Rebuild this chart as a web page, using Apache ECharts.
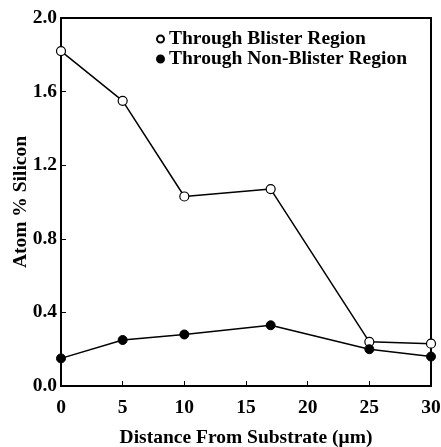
<!DOCTYPE html>
<html><head><meta charset="utf-8">
<script src="https://cdn.jsdelivr.net/npm/echarts@6/dist/echarts.min.js"></script>
<style>html,body{margin:0;padding:0;background:#fff}#c{width:441px;height:447px}</style>
</head><body><div id="c"></div>
<script>
const distances = [0, 5, 10, 17, 25, 30];
const blister = [1.82, 1.55, 1.03, 1.07, 0.24, 0.23];
const nonBlister = [0.15, 0.25, 0.28, 0.33, 0.20, 0.16];
const xTicks = [0, 5, 10, 15, 20, 25, 30];
const yTicks = [0.0, 0.4, 0.8, 1.2, 1.6, 2.0];

const font = '"Liberation Serif", "DejaVu Serif", serif';
const chart = echarts.init(document.getElementById('c'));
const axisLine = {show: true, onZero: false, lineStyle: {color: '#000', width: 2}};
chart.setOption({
  animation: false,
  grid: {left: 61, right: 10, top: 18, bottom: 61, containLabel: false, outerBoundsMode: 'none'},
  legend: {
    orient: 'vertical', left: 151, top: 24, itemGap: 0,
    itemWidth: 7, itemHeight: 7,
    textStyle: {fontFamily: font, fontWeight: 'bold', fontSize: 19.5, color: '#000', padding: [0,0,0,0]},
    data: [{name: 'Through Blister Region', icon: 'circle'}, {name: 'Through Non-Blister Region', icon: 'circle'}]
  },
  xAxis: [{
    type: 'value', min: 0, max: 30, interval: 5,
    name: 'Distance From Substrate (\u03bcm)', nameLocation: 'middle', nameGap: 42, nameMoveOverlap: false,
    nameTextStyle: {fontFamily: font, fontWeight: 'bold', fontSize: 19.5, color: '#000'},
    axisLine: axisLine,
    axisTick: {show: true, inside: true, length: 5, lineStyle: {color: '#000', width: 1}},
    axisLabel: {fontFamily: font, fontWeight: 'bold', fontSize: 19.5, color: '#000', margin: 12,
      formatter: v => xTicks.includes(v) ? String(v) : ''},
    splitLine: {show: false}
  }, {
    type: 'value', position: 'top', min: 0, max: 30,
    axisLine: axisLine, axisTick: {show: false}, axisLabel: {show: false}, splitLine: {show: false}
  }],
  yAxis: [{
    type: 'value', min: 0, max: 2.0, interval: 0.4,
    name: 'Atom % Silicon', nameLocation: 'middle', nameGap: 30, nameMoveOverlap: false,
    nameTextStyle: {fontFamily: font, fontWeight: 'bold', fontSize: 19.5, color: '#000'},
    axisLine: axisLine,
    axisTick: {show: true, inside: true, length: 5, lineStyle: {color: '#000', width: 1}},
    axisLabel: {fontFamily: font, fontWeight: 'bold', fontSize: 19.5, color: '#000', margin: 4,
      formatter: v => yTicks.find(t => Math.abs(t - v) < 1e-6) !== undefined ? v.toFixed(1) : ''},
    splitLine: {show: false}
  }, {
    type: 'value', position: 'right', min: 0, max: 2.0,
    axisLine: axisLine, axisTick: {show: false}, axisLabel: {show: false}, splitLine: {show: false}
  }],
  series: [{
    name: 'Through Blister Region', type: 'line',
    data: distances.map((d, i) => [d, blister[i]]),
    symbol: 'circle', symbolSize: 9,
    lineStyle: {color: '#000', width: 1.5},
    itemStyle: {color: '#fff', borderColor: '#000', borderWidth: 1.2},
    z: 3
  }, {
    name: 'Through Non-Blister Region', type: 'line',
    data: distances.map((d, i) => [d, nonBlister[i]]),
    symbol: 'circle', symbolSize: 9,
    lineStyle: {color: '#000', width: 1.5},
    itemStyle: {color: '#000', borderColor: '#000', borderWidth: 1},
    z: 3
  }]
});
</script></body></html>
